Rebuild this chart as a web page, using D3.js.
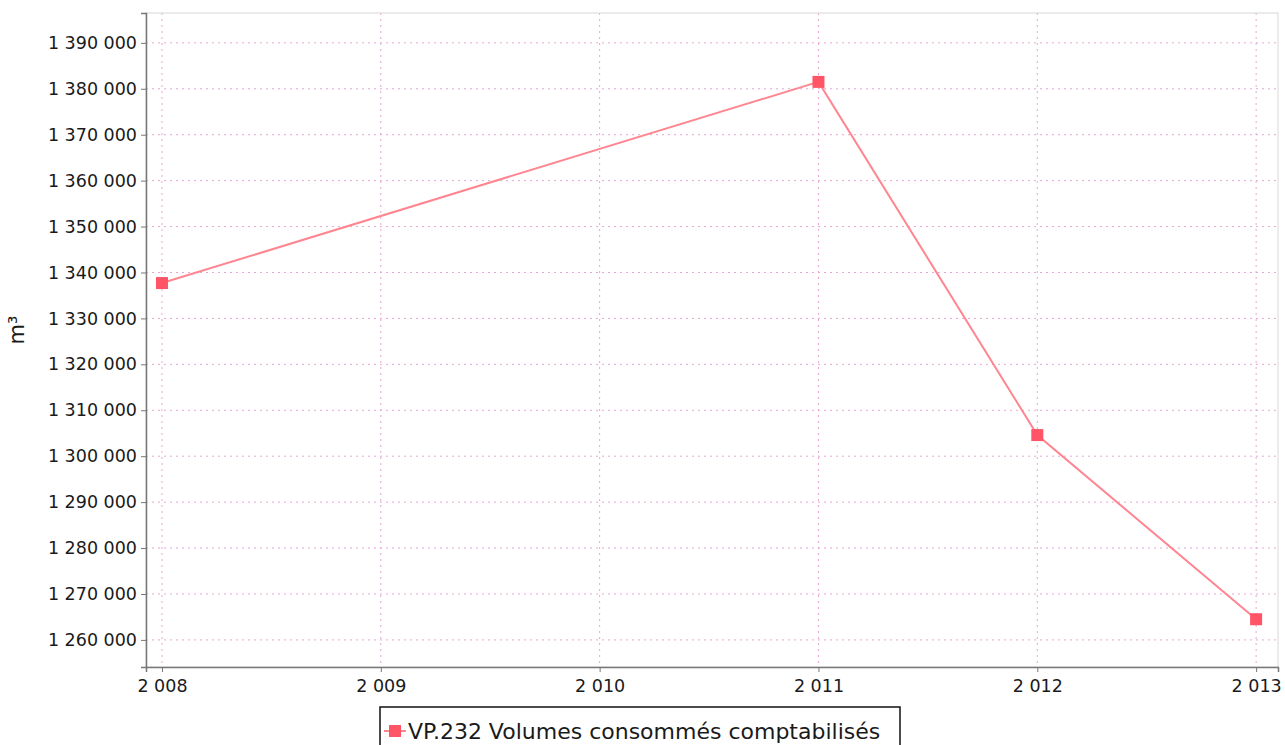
<!DOCTYPE html>
<html><head><meta charset="utf-8">
<script src="https://cdn.jsdelivr.net/npm/d3@7"></script>
<style>body{margin:0;background:#fff;} text{font-family:"DejaVu Sans",sans-serif;}</style>
</head><body><svg id="c" width="1285" height="745"></svg>
<script>
const years = [2008, 2011, 2012, 2013];
const values = [1337700, 1381500, 1304600, 1264500];
const xTicks = [2008, 2009, 2010, 2011, 2012, 2013];
const yTicks = [1260000,1270000,1280000,1290000,1300000,1310000,1320000,1330000,1340000,1350000,1360000,1370000,1380000,1390000];
const seriesName = "VP.232 Volumes consommés comptabilisés";
const yLabel = "m³";

const svg = d3.select("#c");
const L = 146, R = 1278, T = 13, B = 667;
const x = d3.scaleLinear().domain([2007.927, 2013.1]).range([L, R]);
const y = d3.scaleLinear().domain([1254100, 1396500]).range([B, T]);
const fmt = v => d3.format(",")(v).replace(/,/g, " ");

const g = svg.append("g");
g.selectAll(".gy").data(yTicks).join("line")
  .attr("x1", L).attr("x2", R).attr("y1", d => y(d)).attr("y2", d => y(d))
  .attr("stroke", "#e6a6d2").attr("stroke-width", 1).attr("stroke-dasharray", "2,4");
g.selectAll(".gx").data(xTicks).join("line")
  .attr("y1", T).attr("y2", B).attr("x1", d => x(d)).attr("x2", d => x(d))
  .attr("stroke", "#e6a6d2").attr("stroke-width", 1).attr("stroke-dasharray", "2,4");
svg.append("rect").attr("x", L).attr("y", T).attr("width", R - L).attr("height", B - T)
  .attr("fill", "none").attr("stroke", "#d8d8d8").attr("stroke-width", 1);

const yAxis = svg.append("g").attr("transform", `translate(${L},0)`)
  .call(d3.axisLeft(y).tickValues(yTicks).tickFormat(fmt).tickSize(5).tickPadding(4));
const xAxis = svg.append("g").attr("transform", `translate(0,${B})`)
  .call(d3.axisBottom(x).tickValues(xTicks).tickFormat(fmt).tickSize(5).tickPadding(8));
[yAxis, xAxis].forEach(a => {
  a.select(".domain").attr("stroke", "#777").attr("stroke-width", 1.5);
  a.selectAll(".tick line").attr("stroke", "#777");
  a.selectAll(".tick text").attr("fill", "#1a1a1a").attr("font-size", 17.5)
   .attr("font-family", "DejaVu Sans, sans-serif");
});

svg.append("text").attr("transform", `translate(24,${(T + B) / 2 - 10}) rotate(-90)`)
  .attr("text-anchor", "middle").attr("font-size", 21).attr("fill", "#1a1a1a").text(yLabel);

const data = years.map((yr, i) => ({yr, v: values[i]}));
svg.append("path").datum(data)
  .attr("d", d3.line().x(d => x(d.yr)).y(d => y(d.v)))
  .attr("fill", "none").attr("stroke", "#ff8590").attr("stroke-width", 2);
svg.selectAll(".pt").data(data).join("rect")
  .attr("x", d => x(d.yr) - 6).attr("y", d => y(d.v) - 6)
  .attr("width", 12).attr("height", 12).attr("fill", "#ff5566");

const lg = svg.append("g");
lg.append("rect").attr("x", 380).attr("y", 707).attr("width", 520).attr("height", 45)
  .attr("fill", "none").attr("stroke", "#111").attr("stroke-width", 1.5);
lg.append("text").attr("x", 408).attr("y", 739).attr("font-size", 22)
  .attr("fill", "#1a1a1a").text(seriesName);
lg.append("line").attr("x1", 384).attr("x2", 406).attr("y1", 731).attr("y2", 731)
  .attr("stroke", "#ff8590").attr("stroke-width", 2);
lg.append("rect").attr("x", 389).attr("y", 725).attr("width", 12).attr("height", 12).attr("fill", "#ff5566");
</script></body></html>
